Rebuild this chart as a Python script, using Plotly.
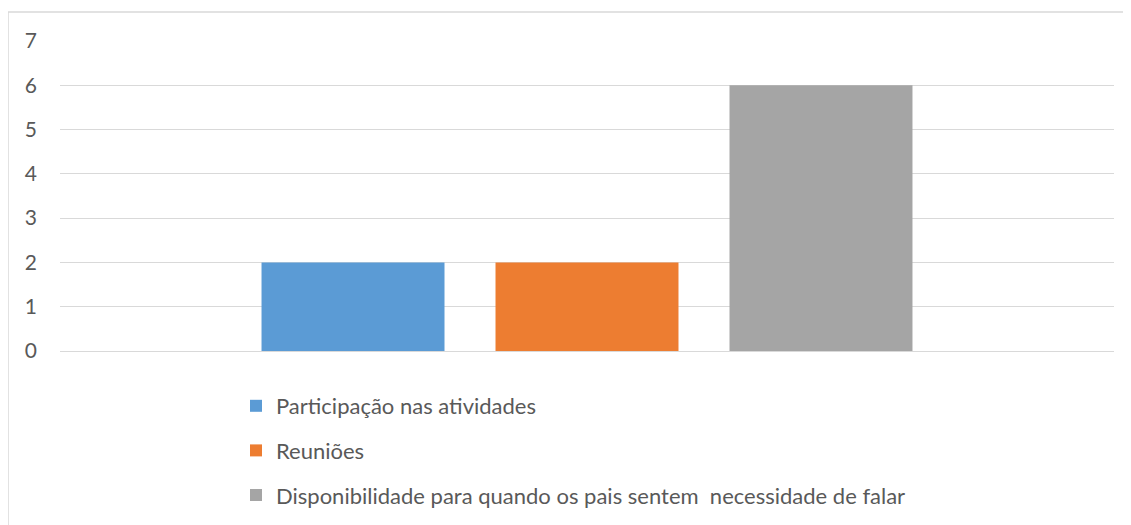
import plotly.graph_objects as go

series_names = [
    "Participação nas atividades",
    "Reuniões",
    "Disponibilidade para quando os pais sentem  necessidade de falar",
]
series_values = [2, 2, 6]
series_colors = ["#5b9bd5", "#ed7d31", "#a5a5a5"]
category = [""]
y_ticks = [0, 1, 2, 3, 4, 5, 6, 7]

text_color = "#595959"
grid_color = "#d9d9d9"
font_family = "Lato, 'Liberation Sans', sans-serif"

fig = go.Figure()
for i, (name, val, col) in enumerate(zip(series_names, series_values, series_colors)):
    fig.add_trace(go.Bar(
        x=category, y=[val], name=name,
        marker=dict(color=col, line=dict(width=0)),
        legendgroup=f"g{i}",
    ))

# page offset from the default 8px body margin
OFF = 8
W, H = 1131 - OFF, 525 - OFF
# desired page-pixel positions of the plot area
pl, pr, pt, pb = 60, 1114, 41, 351
ml, mr, mt, mb = pl - OFF, (1131 - pr), pt - OFF, (525 - pb)
pw = pr - pl
ph = pb - pt

def px_x(x):
    return (x - pl) / pw

def px_y(y):
    return (pb - y) / ph

fig.update_layout(
    width=W, height=H,
    margin=dict(l=ml, r=mr, t=mt, b=mb, pad=0, autoexpand=False),
    paper_bgcolor="white", plot_bgcolor="white",
    barmode="group", bargap=0.334, bargroupgap=0.218,
    font=dict(family=font_family, color=text_color, size=22),
    showlegend=True,
    legend=dict(
        orientation="v",
        x=px_x(236), xanchor="left",
        y=px_y(385), yanchor="top",
        traceorder="grouped",
        tracegroupgap=13,
        font=dict(family=font_family, size=22, color=text_color),
        bgcolor="rgba(0,0,0,0)",
    ),
    xaxis=dict(showticklabels=False, showgrid=False, zeroline=False,
               showline=False, ticks=""),
    yaxis=dict(range=[0, 7], tickvals=y_ticks, showgrid=True,
               gridcolor=grid_color, gridwidth=1, zeroline=True,
               zerolinecolor=grid_color, zerolinewidth=1, showline=False,
               ticks="", ticklabelstandoff=22,
               tickfont=dict(family=font_family, size=21, color=text_color)),
    shapes=[
        dict(type="line", xref="paper", yref="paper",
             x0=px_x(8), x1=px_x(1140), y0=px_y(12), y1=px_y(12),
             line=dict(color=grid_color, width=1.5)),
        dict(type="line", xref="paper", yref="paper",
             x0=px_x(8), x1=px_x(8), y0=px_y(12), y1=px_y(540),
             line=dict(color=grid_color, width=1.5)),
    ],
)

fig.write_html("out.html")
